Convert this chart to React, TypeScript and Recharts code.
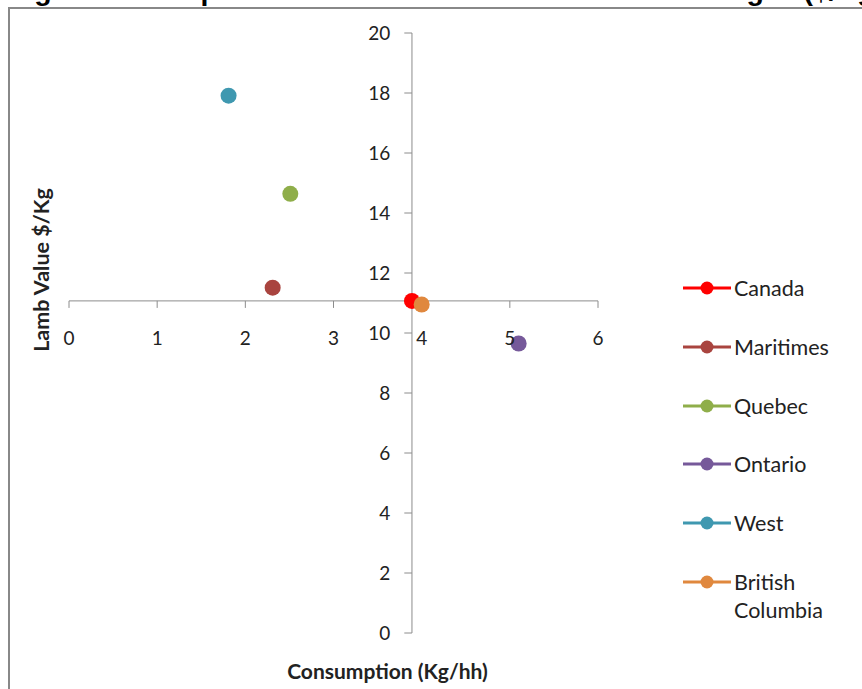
import { ScatterChart, Scatter, XAxis, YAxis, ReferenceLine, Legend } from "recharts";

const SERIES = ["Canada", "Maritimes", "Quebec", "Ontario", "West", "British Columbia"];
const CONSUMPTION = [3.89, 2.31, 2.51, 5.1, 1.81, 4.0];
const LAMB_VALUE = [11.07, 11.51, 14.64, 9.65, 17.91, 10.95];
const COLORS = ["#ff0000", "#a9443f", "#8fae4a", "#76599a", "#3f98b0", "#e0883e"];

const X_TICKS = [0, 1, 2, 3, 4, 5, 6];
const Y_TICKS = [0, 2, 4, 6, 8, 10, 12, 14, 16, 18, 20];

const TITLE = "Figure 6: Comparison of National and Provincial Averages ($/Kg)";
const X_TITLE = "Consumption (Kg/hh)";
const Y_TITLE = "Lamb Value $/Kg";

// axes cross at the national (Canada) values
const CROSS_X = CONSUMPTION[0];
const CROSS_Y = LAMB_VALUE[0];

const AXIS_COLOR = "#8c8c8c";
const TEXT_COLOR = "#222";
const FONT = "Lato, 'Open Sans', sans-serif";

const LegendBox = () => (
  <div style={{ fontFamily: FONT, fontSize: 21.5, color: TEXT_COLOR }}>
    {SERIES.map((name, i) => (
      <div key={name} style={{ display: "flex", alignItems: "flex-start", lineHeight: "28px", marginBottom: 30.7 }}>
        <svg width={51} height={28} style={{ flex: "none" }}>
          <line x1={0} y1={14} x2={48} y2={14} stroke={COLORS[i]} strokeWidth={3} />
          <circle cx={24} cy={14} r={6.5} fill={COLORS[i]} />
        </svg>
        <span style={{ width: 110 }}>{name}</span>
      </div>
    ))}
  </div>
);

const App = () => {
  const tickLabel = { fill: TEXT_COLOR, fontSize: 19, fontFamily: FONT };
  return (
    <div style={{ position: "absolute", left: 0, top: 0, width: 862, height: 689, overflow: "hidden", background: "#fff" }}>
      <div
        style={{
          position: "absolute",
          left: 9,
          top: -23.6,
          fontFamily: "'Liberation Sans', Arial, sans-serif",
          fontWeight: "bold",
          fontSize: 28.5,
          lineHeight: 1,
          whiteSpace: "nowrap",
          color: "#000",
        }}
      >
        {TITLE}
      </div>
      <div
        style={{
          position: "absolute",
          left: 8,
          top: 7,
          width: 1000,
          height: 1000,
          border: "2px solid #888",
        }}
      />
      <div style={{ position: "absolute", left: 0, top: 0 }}>
        <ScatterChart width={862} height={689} margin={{ top: 33, right: 264, bottom: 56, left: 69 }}>
          <XAxis type="number" dataKey="x" domain={[0, 6]} ticks={X_TICKS} hide />
          <YAxis type="number" dataKey="y" domain={[0, 20]} ticks={Y_TICKS} hide />
          <ReferenceLine y={CROSS_Y} stroke={AXIS_COLOR} strokeWidth={1} />
          <ReferenceLine x={CROSS_X} stroke={AXIS_COLOR} strokeWidth={1} />
          {X_TICKS.map((t) => (
            <ReferenceLine
              key={`xt-${t}`}
              segment={[
                { x: t, y: CROSS_Y },
                { x: t, y: CROSS_Y - 0.234 },
              ]}
              stroke={AXIS_COLOR}
              label={{ value: String(t), position: "bottom", offset: 24, ...tickLabel }}
            />
          ))}
          {Y_TICKS.map((t) => (
            <ReferenceLine
              key={`yt-${t}`}
              segment={[
                { x: CROSS_X - 0.087, y: t },
                { x: CROSS_X, y: t },
              ]}
              stroke={AXIS_COLOR}
              label={{ value: String(t), position: "left", offset: 14, ...tickLabel }}
            />
          ))}
          {SERIES.map((name, i) => (
            <Scatter
              key={name}
              name={name}
              data={[{ x: CONSUMPTION[i], y: LAMB_VALUE[i] }]}
              fill={COLORS[i]}
              isAnimationActive={false}
              shape={(p: any) => <circle cx={p.cx} cy={p.cy} r={8} fill={COLORS[i]} />}
            />
          ))}
          <Legend
            layout="horizontal"
            align="center"
            verticalAlign="middle"
            content={() => <LegendBox />}
            wrapperStyle={{ left: 683, top: 274.3, width: 175, height: "auto" }}
          />
        </ScatterChart>
      </div>
      <div
        style={{
          position: "absolute",
          left: 387.5,
          top: 670,
          transform: "translate(-50%, -50%)",
          fontFamily: FONT,
          fontWeight: "bold",
          fontSize: 21,
          color: TEXT_COLOR,
          whiteSpace: "nowrap",
        }}
      >
        {X_TITLE}
      </div>
      <div
        style={{
          position: "absolute",
          left: 41,
          top: 270,
          transform: "translate(-50%, -50%) rotate(-90deg)",
          fontFamily: FONT,
          fontWeight: "bold",
          fontSize: 21.5,
          color: TEXT_COLOR,
          whiteSpace: "nowrap",
        }}
      >
        {Y_TITLE}
      </div>
    </div>
  );
};

export default App;
